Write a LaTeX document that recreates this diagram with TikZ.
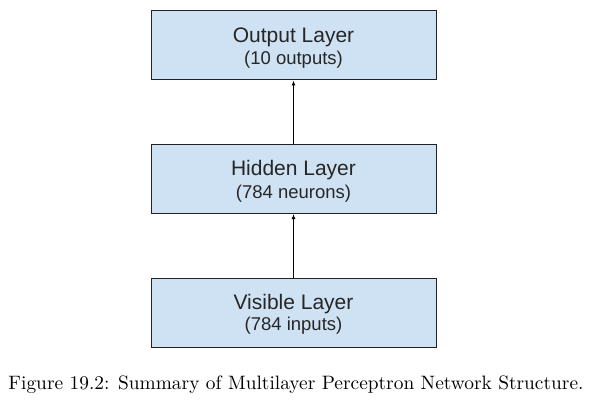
\documentclass[tikz,border=0pt]{standalone}
\usepackage{fontspec}
\setsansfont{Liberation Sans}
\usetikzlibrary{arrows.meta,calc}
\definecolor{boxfill}{HTML}{CFE2F3}
\definecolor{boxline}{HTML}{222222}
\tikzset{
  layerbox/.style={draw=boxline, line width=1pt, fill=boxfill, minimum width=285pt, minimum height=69pt, inner sep=0pt},
  mainlbl/.style={anchor=base, inner sep=0pt, font=\sffamily\fontsize{21}{24}\selectfont, text=black!85},
  sublbl/.style={anchor=base, inner sep=0pt, font=\sffamily\fontsize{18.5}{21}\selectfont, text=black!85},
  conn/.style={line width=1pt, -{Latex[length=5pt,width=4pt]}}
}
\begin{document}
\begin{tikzpicture}[x=1pt,y=-1pt]
\useasboundingbox (0,0) rectangle (601,401);
\node[layerbox] (out) at (293.5,45.5) {};
\node[layerbox] (hid) at (293.5,179) {};
\node[layerbox] (vis) at (293.5,312.5) {};
\node[mainlbl] (outm) at ($(out.north)+(0,31.7)$) {Output Layer};
\node[sublbl] (outs) at ($(out.north)+(0,54)$) {(10 outputs)};
\node[mainlbl] (hidm) at ($(hid.north)+(0,31.7)$) {Hidden Layer};
\node[sublbl] (hids) at ($(hid.north)+(0,54)$) {(784 neurons)};
\node[mainlbl] (vism) at ($(vis.north)+(0,31.7)$) {Visible Layer};
\node[sublbl] (viss) at ($(vis.north)+(0,53)$) {(784 inputs)};
\draw[conn] (hid.north) -- (out.south);
\draw[conn] (vis.north) -- (hid.south);
\node[anchor=base, inner sep=0pt] (cap) at (296,389) {\resizebox{575pt}{!}{Figure 19.2: Summary of Multilayer Perceptron Network Structure.}};
\end{tikzpicture}
\end{document}
